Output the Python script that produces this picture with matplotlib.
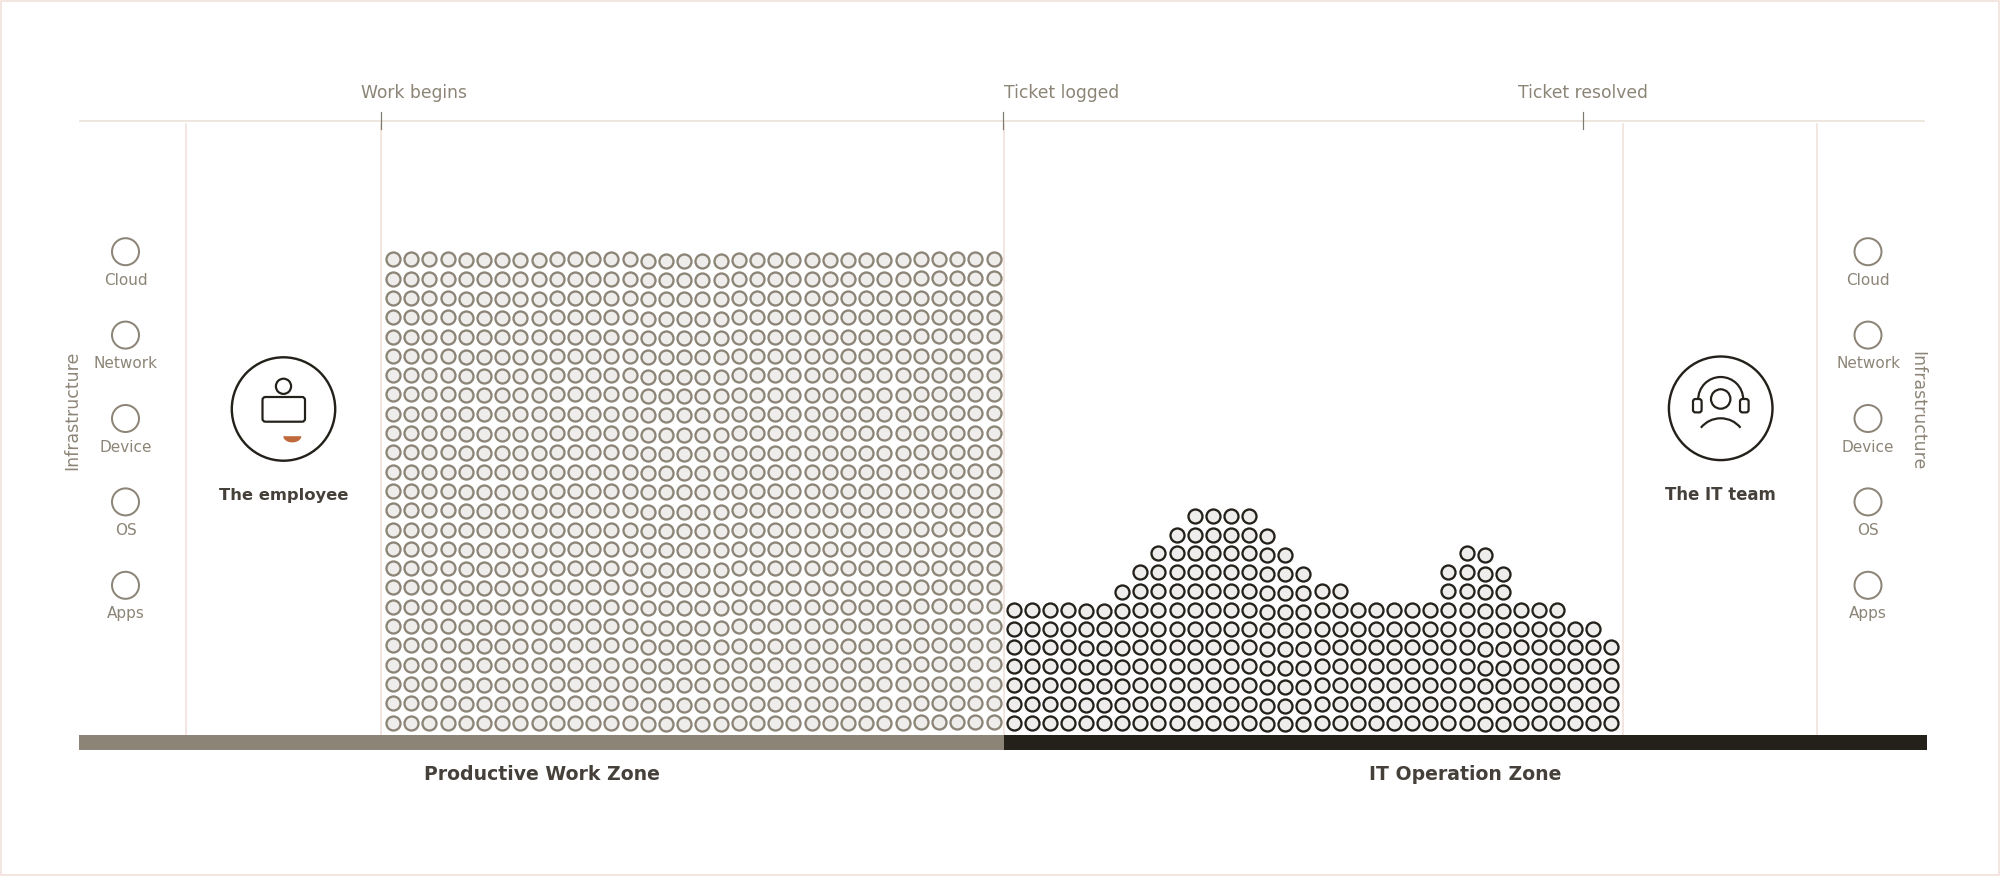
import numpy as np
import matplotlib
matplotlib.use("Agg")
import matplotlib.pyplot as plt
from matplotlib.patches import Circle, FancyBboxPatch, Arc, Rectangle

# tickets / work items stacked per time slot
work_heights = [25] * 34
ticket_heights = [7, 7, 7, 7, 7, 7, 8, 9, 10, 11, 12, 12, 12, 12, 11, 10, 9,
                  8, 8, 7, 7, 7, 7, 7, 9, 10, 10, 9, 7, 7, 7, 6, 6, 5]

layers = ["Cloud", "Network", "Device", "OS", "Apps"]
milestones = ["Work begins", "Ticket logged", "Ticket resolved"]
zones = ["Productive Work Zone", "IT Operation Zone"]
actors = ["The employee", "The IT team"]

TAUPE = "#8c8577"
DARK = "#24211b"
FILL = "#efedeb"
LINE = "#e8e0d6"
PINK = "#f0ddd6"
TEXT = "#45403a"

fig = plt.figure(figsize=(20, 8.76), dpi=100)
ax = fig.add_axes([0, 0, 1, 1])
ax.set_xlim(0, 2000)
ax.set_ylim(876, 0)
ax.axis("off")


def px(v):
    # pixels to points
    return v * 72 / 100


def stack(heights, x0, step_x, y0, step_y, edge, shifts):
    xs, ys = [], []
    for i, h in enumerate(heights):
        for r in range(h):
            xs.append(x0 + i * step_x)
            ys.append(y0 + shifts.get(i, 0) - r * step_y)
    dots = ax.scatter(xs, ys, s=px(14) ** 2, facecolor=FILL, edgecolor=edge,
                      linewidth=px(2.3), zorder=3)
    dots.set_snap(False)


# outer border
ax.add_patch(Rectangle((0.7, 0.7), 1998.6, 874.6, fill=False, ec=PINK, lw=px(1.5)))

# frame lines
ax.plot([80, 1924], [120.5, 120.5], color=LINE, lw=px(1.6), zorder=1)
for x in [186, 381, 1003.5, 1622.5, 1817]:
    ax.plot([x, x], [124, 735], color=PINK, lw=px(1.5), zorder=1)

milestone_x = [381, 1003, 1583]
label_x = [361, 1004, 1518]
for name, x, lx in zip(milestones, milestone_x, label_x):
    ax.plot([x, x], [112, 129], color="#7f7a70", lw=px(1.2), zorder=2)
    ax.text(lx, 92.5, name, color=TAUPE, fontsize=12.3, ha="left", va="center")

# bottom bar
ax.add_patch(Rectangle((79, 735), 924.5, 14.5, fc=TAUPE, ec="none", zorder=2))
ax.add_patch(Rectangle((1003.5, 735), 923.5, 14.5, fc=DARK, ec="none", zorder=2))
ax.text(541.5, 774, zones[0], color=TEXT, fontsize=13.6, fontweight="bold", ha="center", va="center")
ax.text(1465.5, 774, zones[1], color=TEXT, fontsize=13.6, fontweight="bold", ha="center", va="center")

# dots, the columns sit a little unevenly in the original
work_shift = {i: 0.7 for i in range(4, 9)}
work_shift.update({i: 1.5 for i in range(14, 19)})
work_shift.update({i: 0.3 for i in range(19, 29)})
work_shift.update({i: -0.3 for i in range(29, 34)})
ticket_shift = {4: 0.7, 5: 0.7, 6: 0.7, 14: 1.7, 15: 1.7, 16: 1.7, 26: 1.3, 27: 1.3}
stack(work_heights, 393, 18.2, 722.5, 19.3, TAUPE, work_shift)
stack(ticket_heights, 1013.5, 18.12, 722.6, 18.8, DARK, ticket_shift)

# infrastructure columns
for cx in [125.5, 1868]:
    for i, name in enumerate(layers):
        cy = 251.7 + i * 83.4
        ax.add_patch(Circle((cx, cy), 13.5, fc="white", ec=TAUPE, lw=px(2)))
        ax.text(cx, cy + 28.5, name, color=TAUPE, fontsize=11, ha="center", va="center")
ax.text(72.5, 410.5, "Infrastructure", color=TAUPE, fontsize=12.5, rotation=90, ha="center", va="center")
ax.text(1917, 410.5, "Infrastructure", color=TAUPE, fontsize=12.5, rotation=270, ha="center", va="center")

# employee icon
ax.add_patch(Circle((283.5, 409), 51.7, fc="white", ec=DARK, lw=px(2.4)))
ax.add_patch(Circle((283.5, 386.3), 7.6, fc="white", ec=DARK, lw=px(2.2)))
ax.add_patch(FancyBboxPatch((262.5, 397), 42.5, 24.7, boxstyle="round,pad=0,rounding_size=3",
                            fc="white", ec=DARK, lw=px(2.2)))
t = np.linspace(0, np.pi, 40)
ax.fill(292.3 + 9 * np.cos(t), 436.2 + 6.2 * np.sin(t), color="#be6a3c", lw=0)
ax.text(284, 495.5, actors[0], color=TEXT, fontsize=11.8, fontweight="bold", ha="center", va="center")

# IT team icon
ax.add_patch(Circle((1720.7, 408.3), 51.8, fc="white", ec=DARK, lw=px(2.4)))
ax.add_patch(Circle((1720.7, 399), 9.7, fc="white", ec=DARK, lw=px(2.2)))
ax.add_patch(Arc((1720.7, 399.5), 45, 45, theta1=180, theta2=360, ec=DARK, lw=px(2.2)))
for x in [1693, 1740]:
    ax.add_patch(FancyBboxPatch((x, 399), 8.6, 13.4, boxstyle="round,pad=0,rounding_size=2.5",
                                fc="white", ec=DARK, lw=px(2.2)))
ax.add_patch(Arc((1720.7, 443.8), 51, 51, theta1=219, theta2=321, ec=DARK, lw=px(2.2)))
ax.text(1720.5, 495.5, actors[1], color=TEXT, fontsize=11.9, fontweight="bold", ha="center", va="center")

fig.savefig("out.png", dpi=100, facecolor="white")
